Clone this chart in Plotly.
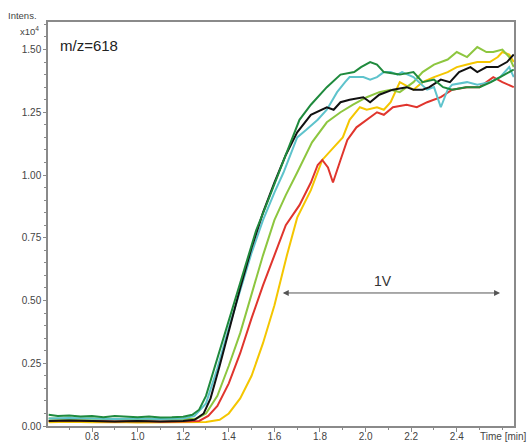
import plotly.graph_objects as go

# ---- data (time in min, intensity in x10^4) ----
dkgreen_t = [0.61,0.65,0.70,0.75,0.80,0.85,0.90,0.95,1.00,1.05,1.10,1.15,1.20,1.24,1.27,1.30,1.33,1.36,1.39,1.42,1.46,1.50,1.52,1.56,1.60,1.65,1.71,1.76,1.83,1.89,1.95,1.98,2.02,2.05,2.08,2.15,2.21,2.25,2.30,2.34,2.38,2.44,2.50,2.55,2.59,2.63,2.65]
dkgreen_v = [0.045,0.040,0.042,0.038,0.040,0.035,0.040,0.037,0.035,0.038,0.034,0.035,0.037,0.045,0.065,0.12,0.21,0.30,0.38,0.47,0.60,0.72,0.78,0.87,0.96,1.08,1.22,1.28,1.35,1.40,1.41,1.43,1.45,1.44,1.41,1.40,1.41,1.37,1.38,1.35,1.34,1.35,1.35,1.37,1.39,1.41,1.42]

black_t = [0.61,0.70,0.80,0.90,1.00,1.10,1.20,1.25,1.29,1.32,1.36,1.40,1.45,1.50,1.55,1.60,1.65,1.70,1.76,1.83,1.86,1.89,1.93,1.99,2.02,2.06,2.12,2.18,2.21,2.25,2.28,2.33,2.37,2.41,2.46,2.49,2.53,2.58,2.62,2.65]
black_v = [0.020,0.022,0.020,0.018,0.020,0.018,0.020,0.025,0.05,0.11,0.24,0.38,0.55,0.71,0.85,0.97,1.08,1.17,1.24,1.27,1.26,1.29,1.30,1.31,1.29,1.32,1.34,1.35,1.34,1.34,1.35,1.38,1.37,1.41,1.43,1.41,1.43,1.43,1.45,1.48]

cyan_t = [0.61,0.70,0.80,0.90,1.00,1.10,1.20,1.25,1.30,1.35,1.40,1.45,1.50,1.55,1.60,1.64,1.70,1.74,1.79,1.83,1.875,1.91,1.93,1.96,1.99,2.02,2.05,2.08,2.11,2.14,2.16,2.21,2.27,2.30,2.33,2.36,2.38,2.445,2.49,2.545,2.59,2.63,2.65]
cyan_v = [0.030,0.032,0.030,0.028,0.030,0.028,0.030,0.04,0.09,0.23,0.39,0.54,0.69,0.82,0.93,1.01,1.15,1.18,1.22,1.26,1.33,1.37,1.39,1.39,1.39,1.38,1.39,1.41,1.41,1.40,1.41,1.39,1.34,1.35,1.27,1.34,1.36,1.37,1.36,1.37,1.39,1.43,1.39]

ltgreen_t = [0.61,0.70,0.80,0.90,1.00,1.10,1.20,1.26,1.30,1.35,1.40,1.45,1.50,1.55,1.60,1.65,1.70,1.765,1.83,1.89,1.945,2.005,2.06,2.11,2.15,2.21,2.25,2.30,2.36,2.40,2.445,2.49,2.53,2.56,2.60,2.63,2.65]
ltgreen_v = [0.030,0.028,0.030,0.027,0.028,0.026,0.027,0.03,0.05,0.12,0.24,0.37,0.53,0.68,0.82,0.92,1.01,1.13,1.21,1.25,1.28,1.31,1.33,1.34,1.33,1.37,1.41,1.44,1.46,1.49,1.47,1.51,1.49,1.49,1.50,1.47,1.43]

red_t = [0.61,0.70,0.80,0.90,1.00,1.10,1.20,1.27,1.31,1.35,1.40,1.45,1.50,1.55,1.60,1.65,1.71,1.76,1.79,1.81,1.835,1.857,1.89,1.92,1.96,2.005,2.05,2.08,2.12,2.18,2.225,2.27,2.33,2.38,2.445,2.50,2.56,2.60,2.65]
red_v = [0.020,0.022,0.020,0.018,0.020,0.017,0.018,0.02,0.04,0.08,0.17,0.29,0.43,0.56,0.68,0.80,0.88,0.97,1.04,1.06,1.03,0.97,1.06,1.14,1.19,1.22,1.25,1.24,1.27,1.28,1.27,1.29,1.31,1.34,1.35,1.35,1.39,1.37,1.35]

yellow_t = [0.61,0.70,0.80,0.90,1.00,1.10,1.20,1.30,1.36,1.40,1.45,1.50,1.55,1.60,1.655,1.70,1.76,1.81,1.86,1.90,1.93,1.975,2.005,2.05,2.08,2.11,2.15,2.21,2.25,2.30,2.36,2.40,2.445,2.49,2.545,2.58,2.60,2.63,2.65]
yellow_v = [0.015,0.017,0.015,0.016,0.014,0.015,0.015,0.016,0.025,0.05,0.11,0.20,0.33,0.48,0.68,0.83,0.94,1.06,1.11,1.15,1.22,1.27,1.26,1.27,1.26,1.29,1.37,1.34,1.37,1.39,1.41,1.43,1.44,1.45,1.45,1.47,1.49,1.48,1.45]

series = [
    ("yellow", yellow_t, yellow_v, "#f4c600"),
    ("red", red_t, red_v, "#e0352d"),
    ("light green", ltgreen_t, ltgreen_v, "#8dc63f"),
    ("cyan", cyan_t, cyan_v, "#5ec3cc"),
    ("black", black_t, black_v, "#111111"),
    ("dark green", dkgreen_t, dkgreen_v, "#1f8a3d"),
]

x_ticks = [0.8, 1.0, 1.2, 1.4, 1.6, 1.8, 2.0, 2.2, 2.4]
y_ticks = [0.00, 0.25, 0.50, 0.75, 1.00, 1.25, 1.50]

fig = go.Figure()
for name, t, v, c in series:
    fig.add_trace(go.Scatter(x=t, y=v, mode="lines", name=name,
                             line=dict(color=c, width=2), showlegend=False))

font = "Liberation Sans, Arial, sans-serif"
axcol = "#8a8a8a"
fig.update_layout(
    width=530, height=444,
    margin=dict(l=48, r=16, t=22, b=18, autoexpand=False),
    paper_bgcolor="white", plot_bgcolor="white",
    font=dict(family=font, size=10, color="#444"),
    xaxis=dict(range=[0.607, 2.651], tickvals=x_ticks, ticktext=[f"{v:.1f}" for v in x_ticks],
               automargin=False, ticklabelstandoff=-4,
               showgrid=False, zeroline=False, showline=True, linecolor=axcol, linewidth=1.5,
               mirror=True, ticks="outside", ticklen=4, tickcolor=axcol,
               minor=dict(dtick=0.1, tick0=0.8, ticks="outside", ticklen=2, tickcolor=axcol),
               tickfont=dict(size=10, color="#444")),
    yaxis=dict(range=[0, 1.6096], tickvals=y_ticks, ticktext=[f"{v:.2f}" for v in y_ticks],
               automargin=False,
               showgrid=False, zeroline=False, showline=True, linecolor=axcol, linewidth=1.5,
               mirror=True, ticks="outside", ticklen=3, tickcolor=axcol,
               minor=dict(dtick=0.05, tick0=0, ticks="outside", ticklen=2, tickcolor=axcol),
               tickfont=dict(size=10, color="#444")),
)

fig.add_annotation(xref="paper", yref="paper", x=-0.09, y=1.017, xanchor="left", yanchor="middle",
                   text="Intens.", showarrow=False, font=dict(size=9.5, color="#444"))
fig.add_annotation(xref="paper", yref="paper", x=-0.014, y=0.978, xanchor="right", yanchor="middle",
                   text="x10<sup>4</sup>", showarrow=False, font=dict(size=9.5, color="#444"))
fig.add_annotation(xref="paper", yref="paper", x=0.0215, y=0.9406, xanchor="left", yanchor="middle",
                   text="m/z=618", showarrow=False, font=dict(size=15, color="#222"))
fig.add_annotation(xref="paper", yref="paper", x=1.032, y=-0.027, xanchor="right", yanchor="middle",
                   text="Time [min]", showarrow=False, font=dict(size=10, color="#444"))
fig.add_annotation(x=2.59, y=0.53, ax=1.63, ay=0.53, xref="x", yref="y", axref="x", ayref="y",
                   text="", showarrow=True, arrowside="end+start", arrowhead=2, arrowsize=1.2,
                   arrowwidth=1, arrowcolor="#555", standoff=0, startstandoff=0)
fig.add_annotation(x=2.076, y=0.578, xref="x", yref="y", text="1V", showarrow=False,
                   font=dict(size=14, color="#333"))

fig.write_html("out.html")
